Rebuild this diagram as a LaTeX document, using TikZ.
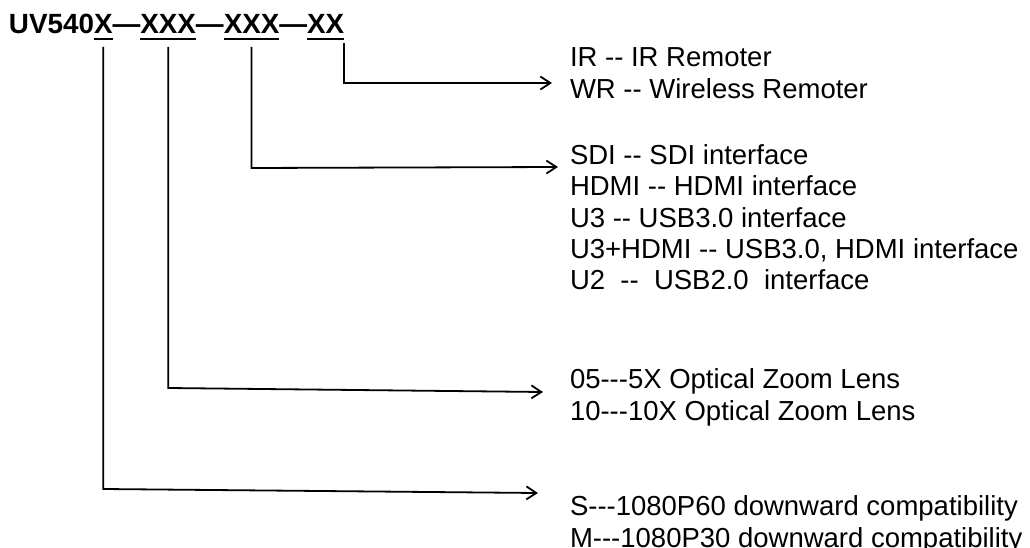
\documentclass[tikz,border=0pt]{standalone}
\usepackage{fontspec}
\setmainfont{Liberation Sans}
\usetikzlibrary{arrows.meta}
\begin{document}
\begin{tikzpicture}[x=1pt,y=-1pt,
  ttl/.style={inner sep=0pt,outer sep=0pt,anchor=base west,font=\fontsize{27.8}{32}\selectfont\bfseries},
  item/.style={inner sep=0pt,outer sep=0pt,anchor=base west,font=\fontsize{27.5}{31.5}\selectfont},
  conn/.style={line width=1.8pt,-{Straight Barb[length=10pt,width=13pt,line width=1.8pt]}},
  uline/.style={line width=1.8pt}]
\useasboundingbox (0,0) rectangle (1030,548);
% title
\node[ttl] (t0) at (9,34) {UV540};
\node[ttl] (s1) at (t0.base east) {X};
\node[ttl] (d1) at (s1.base east) {—};
\node[ttl] (s2) at (d1.base east) {XXX};
\node[ttl] (d2) at (s2.base east) {—};
\node[ttl] (s3) at (d2.base east) {XXX};
\node[ttl] (d3) at (s3.base east) {—};
\node[ttl] (s4) at (d3.base east) {XX};
\foreach \s in {s1,s2,s3,s4}
  \draw[uline] ([yshift=-5pt]\s.base west) -- ([yshift=-5pt]\s.base east);
% lists
\node[item] (ir) at (570,67) {IR -{}- IR Remoter};
\node[item] (wr) at (570,99) {WR -{}- Wireless Remoter};
\node[item] (sdi) at (570,165) {SDI -{}- SDI interface};
\node[item] (hdmi) at (570,196) {HDMI -{}- HDMI interface};
\node[item] (u3) at (570,227) {U3 -{}- USB3.0 interface};
\node[item] (u3h) at (570,258) {U3+HDMI -{}- USB3.0, HDMI interface};
\node[item] (u2) at (570,289) {U2 ~-{}- ~USB2.0 ~interface};
\node[item] (z05) at (570,388) {05-{}-{}-5X Optical Zoom Lens};
\node[item] (z10) at (570,420) {10-{}-{}-10X Optical Zoom Lens};
\node[item] (cs) at (570,515) {S-{}-{}-1080P60 downward compatibility};
\node[item] (cm) at (570,547) {M-{}-{}-1080P30 downward compatibility};
% connector ends
\coordinate (b1) at ([yshift=-13pt]s1.base);
\coordinate (b2) at ([yshift=-13pt]s2.base);
\coordinate (b3) at ([yshift=-13pt]s3.base);
\coordinate (b4) at ([yshift=-9pt]s4.base east);
\coordinate (k1) at (0,489);
\coordinate (k2) at (0,388);
\coordinate (k3) at (0,168);
\coordinate (k4) at (0,83);
\coordinate (a1) at (538,493);
\coordinate (a2) at (543,392);
\coordinate (a3) at (558,167);
\coordinate (a4) at (552,83);
\draw[conn] (b1) -- (b1 |- k1) -- (a1);
\draw[conn] (b2) -- (b2 |- k2) -- (a2);
\draw[conn] (b3) -- (b3 |- k3) -- (a3);
\draw[conn] (b4) -- (b4 |- k4) -- (a4);
\end{tikzpicture}
\end{document}
